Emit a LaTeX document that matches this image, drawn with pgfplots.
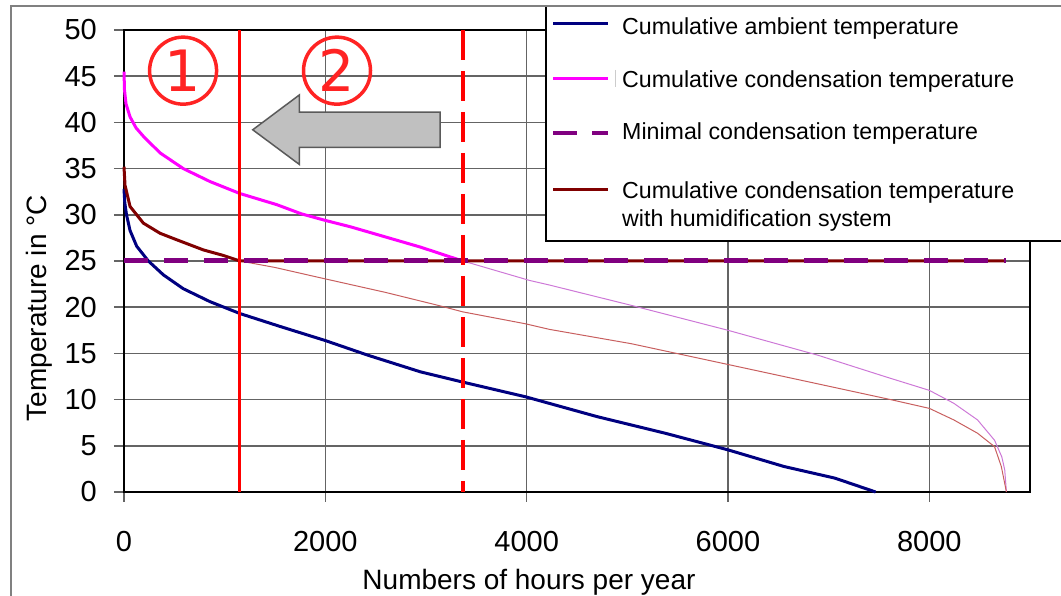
\documentclass[border=0pt]{standalone}
\usepackage{fontspec}
\setmainfont{Liberation Sans}
\newfontfamily\djv{DejaVu Sans}
\usepackage{pgfplots}
\pgfplotsset{compat=1.18}
\definecolor{navy}{RGB}{0,0,128}
\definecolor{mag}{RGB}{255,0,255}
\definecolor{dred}{RGB}{128,0,0}
\definecolor{purp}{RGB}{128,0,128}
\definecolor{thinmag}{RGB}{205,120,215}
\definecolor{thinred}{RGB}{200,95,95}
\definecolor{gridc}{RGB}{100,100,100}
\definecolor{annred}{RGB}{255,35,35}
\definecolor{arrfill}{RGB}{192,192,192}
\definecolor{arrdraw}{RGB}{90,90,90}
\begin{document}
\begin{tikzpicture}
\useasboundingbox (0pt,0pt) rectangle (1061pt,596pt);
\clip (0pt,0pt) rectangle (1061pt,596pt);
\begin{axis}[
  at={(124pt,104pt)}, anchor=south west,
  scale only axis, width=906pt, height=462pt,
  xmin=0, xmax=9000, ymin=0, ymax=50,
  xtick={0,2000,4000,6000,8000}, ytick={0,5,...,50},
  grid=major, grid style={gridc, line width=1.5pt},
  axis line style={black, line width=2.5pt},
  tick align=outside, major tick length=10pt, tick pos=left,
  tick style={gridc, line width=1.5pt},
  scaled x ticks=false,
  /pgf/number format/1000 sep={},
  /pgf/number format/assume math mode=true,
  ticklabel style={font=\fontsize{29}{31}\selectfont, inner sep=0pt},
  xticklabel style={anchor=base, yshift=-50pt},
  yticklabel={\pgfmathprintnumber{\tick}\hspace*{17pt}},
  yticklabel style={anchor=east},
  xlabel={Numbers of hours per year},
  ylabel={Temperature in °C},
  label style={font=\fontsize{28}{30}\selectfont, inner sep=0pt},
  xlabel style={at={(axis description cs:0.447,-0.21)}, anchor=base},
  ylabel style={at={(axis description cs:-0.0855,0.398)}, anchor=base},
  clip=false,
]
% thin continuations
\addplot[thinmag, line width=1pt] coordinates {(3368,25.0) (4027,22.9) (4226,22.4) (5039,20.2) (6000,17.5) (6894,14.8) (7568,12.46) (8000,11.0) (8243,9.6) (8479,7.8) (8648,5.6) (8720,3.8) (8749,2.4) (8766,0)};
\addplot[thinred, line width=1pt] coordinates {(1152,25) (1500,24.3) (1903,23.3) (2598,21.6) (3120,20.2) (3363,19.5) (3990,18.2) (4226,17.6) (5039,16.05) (6000,13.8) (6894,11.7) (7636,9.95) (8000,9.05) (8243,7.8) (8479,6.36) (8648,4.9) (8715,2.76) (8766,0)};
% ambient
\addplot[navy, line width=3pt] coordinates {(0,32.8) (8,31.3) (25,30.0) (60,28.3) (126,26.6) (242,25.0) (391,23.5) (589,22.0) (854,20.6) (1155,19.3) (1555,17.9) (1997,16.4) (2424,14.8) (2946,13.0) (3363,11.9) (3990,10.3) (4702,8.15) (5376,6.36) (6000,4.56) (6556,2.76) (7062,1.5) (7467,0)};
% condensation
\addplot[mag, line width=3pt] coordinates {(0,45.5) (5,43.5) (20,42.0) (60,40.6) (120,39.4) (192,38.5) (358,36.7) (589,35.0) (854,33.6) (1152,32.3) (1517,31.1) (1763,30.1) (1997,29.4) (2250,28.7) (2598,27.6) (2946,26.5) (3294,25.25) (3368,25.0)};
% humidification
\addplot[dred, line width=3pt] coordinates {(0,35.2) (10,33.2) (60,30.9) (192,29.1) (358,28.0) (523,27.3) (788,26.2) (987,25.6) (1152,25.0) (8760,25.0)};
% minimal condensation
\addplot[purp, line width=5pt, dash pattern=on 24pt off 16pt] coordinates {(0,25) (8760,25)};
% boundaries
\addplot[red, line width=3pt] coordinates {(1152,0) (1152,50)};
\addplot[red, line width=4pt, dash pattern=on 30pt off 11pt] coordinates {(3368,50) (3368,0)};
% annotations
\node[circle, draw=annred, line width=3.5pt, minimum size=67pt, inner sep=0pt, text=annred, font=\djv\fontsize{57}{60}\selectfont] at (axis cs:587,45.6) {1};
\node[circle, draw=annred, line width=3.5pt, minimum size=67pt, inner sep=0pt, text=annred, font=\djv\fontsize{57}{60}\selectfont] at (axis cs:2116,45.6) {2};
\draw[fill=arrfill, draw=arrdraw, line width=1.5pt] (axis cs:1279,39.2) -- (axis cs:1742,42.97) -- (axis cs:1742,41.1) -- (axis cs:3141,41.1) -- (axis cs:3141,37.3) -- (axis cs:1742,37.3) -- (axis cs:1742,35.45) -- cycle;
\end{axis}
% legend
\fill[white] (546pt,590pt) rectangle (1090pt,355pt);
\draw[black, line width=2pt] (546pt,590pt) -- (546pt,355pt) -- (1090pt,355pt);
\draw[navy, line width=3pt] (553pt,572.7pt) -- (608pt,572.7pt);
\draw[mag, line width=3pt] (553pt,517.3pt) -- (608pt,517.3pt);
\draw[purp, line width=4pt, dash pattern=on 24pt off 15pt] (553pt,463pt) -- (608pt,463pt);
\draw[dred, line width=3pt] (553pt,406.7pt) -- (608pt,406.7pt);
\draw[gray!40, line width=0.8pt] (615pt,526pt) -- (615pt,509pt);
\begin{scope}[every node/.style={anchor=base west, inner sep=0pt, font=\fontsize{23.2}{27.7}\selectfont}]
\node at (622pt,561pt) {Cumulative ambient temperature};
\node at (622pt,508.3pt) {Cumulative condensation temperature};
\node at (622pt,456pt) {Minimal condensation temperature};
\node at (622pt,397pt) {Cumulative condensation temperature};
\node at (622pt,369.3pt) {with humidification system};
\end{scope}
% outer frame
\draw[gray, line width=1.2pt] (11pt,-10pt) -- (11pt,590pt) -- (1080pt,590pt);
\end{tikzpicture}
\end{document}
